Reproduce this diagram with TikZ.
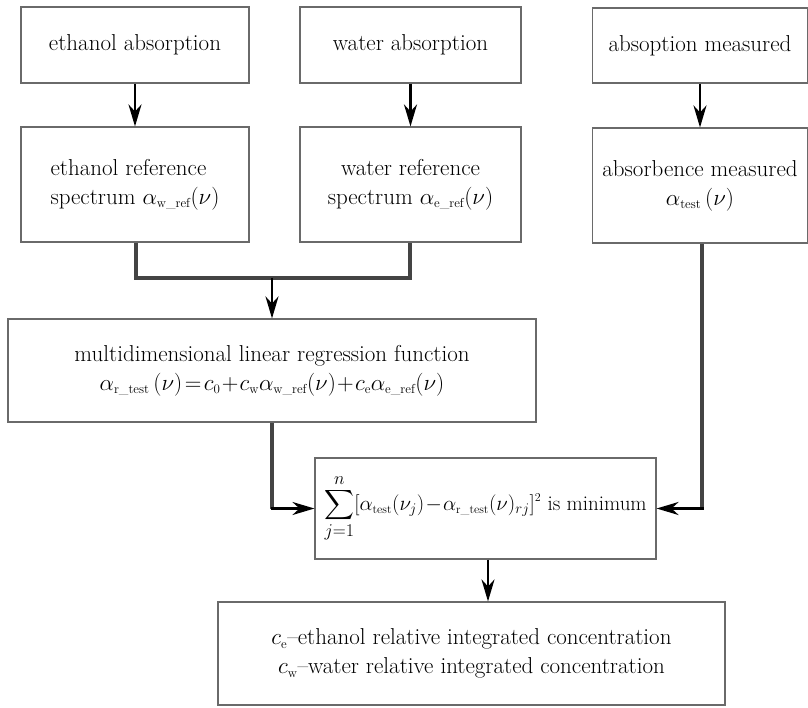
\RequirePackage{fix-cm}
\documentclass[tikz,border=0pt]{standalone}
\usepackage{amsmath}
\usepackage{fontspec}
\usetikzlibrary{arrows.meta}
\definecolor{boxline}{HTML}{6A6A6A}
\definecolor{linkline}{HTML}{444444}
\tikzset{
  stepbox/.style={draw=boxline, line width=1.1pt, inner sep=2pt, align=center,
    font=\fontsize{23}{29}\selectfont, anchor=center},
  arr/.style={draw=black, line width=2.4pt,
    -{Stealth[length=22pt, width=13pt, inset=7pt]}},
  link/.style={draw=linkline, line width=3.2pt},
}
\newcommand{\rsub}[1]{\mbox{\fontsize{13}{13}\selectfont #1}}
\newcommand{\tsub}[1]{\mbox{\fontsize{12}{12}\selectfont #1}}
\newcommand{\limsz}[1]{\mbox{\fontsize{18}{18}\selectfont $#1$}}
\begin{document}
\begin{tikzpicture}[x=1pt, y=-1pt]
\useasboundingbox (0,0) rectangle (808,708);
% top row
\node[stepbox, minimum width=228pt, minimum height=76pt] (ea) at (135,45) {ethanol absorption};
\node[stepbox, minimum width=221pt, minimum height=76pt] (wa) at (410.5,45) {water absorption};
\node[stepbox, minimum width=215pt, minimum height=75pt] (am) at (700,45.5) {absoption measured};
% second row
\node[stepbox, minimum width=228pt, minimum height=115pt, align=left] (er) at (135,184.5)
  {ethanol reference\\spectrum $\alpha_{\rsub{w\_ref}}(\nu)$};
\node[stepbox, minimum width=221pt, minimum height=115pt] (wr) at (410.5,184.5)
  {water reference\\spectrum $\alpha_{\rsub{e\_ref}}(\nu)$};
\node[stepbox, minimum width=215pt, minimum height=115pt] (abm) at (700,185.5)
  {absorbence measured\\$\alpha_{\rsub{test}}\,(\nu)$};
% regression
\node[stepbox, minimum width=528pt, minimum height=103pt] (md) at (272,370.5)
  {multidimensional linear regression function\\
   $\alpha_{\rsub{r\_test}}\,(\nu)\!=\!c_{\rsub{0}}\!+\!c_{\rsub{w}}\alpha_{\rsub{w\_ref}}(\nu)\!+\!c_{\rsub{e}}\alpha_{\rsub{e\_ref}}(\nu)$};
% minimum
\node[stepbox, minimum width=341pt, minimum height=101pt, inner sep=0pt,
      font=\fontsize{21}{26}\selectfont] (mn) at (485.5,508.5)
  {$\displaystyle\sum_{\limsz{j{=}1}}^{\limsz{n}}[\alpha_{\tsub{test}}(\nu_{j})\!-\!\alpha_{\tsub{r\_test}}(\nu)_{rj}]^{\tsub{2}}$ is minimum};
% result
\node[stepbox, minimum width=507pt, minimum height=103pt] (fn) at (471.5,653.5)
  {$c_{\rsub{e}}$--ethanol relative integrated concentration\\
   $c_{\rsub{w}}$--water relative integrated concentration};
% connectors
\draw[arr] (ea) -- (er);
\draw[arr] (wa) -- (wr);
\draw[arr] (am) -- (abm);
\coordinate (jl) at (136,278);
\coordinate (jr) at (410,278);
\coordinate (jm) at (272,278);
\draw[link] (er.south -| jl) -- (jl) -- (jr) -- (wr.south -| jr);
\draw[arr] (jm) -- (md.north);
\coordinate (k1) at (md.south |- mn.west);
\draw[link] (md.south) -- (k1);
\draw[arr] ([xshift=-1.5pt]k1) -- (mn.west);
\coordinate (k2) at (702,508.5);
\draw[link] (abm.south -| k2) -- (k2);
\draw[arr] ([xshift=1.5pt]k2) -- (mn.east);
\draw[arr] (mn.south -| 488,0) -- (fn.north -| 488,0);
\end{tikzpicture}
\end{document}
